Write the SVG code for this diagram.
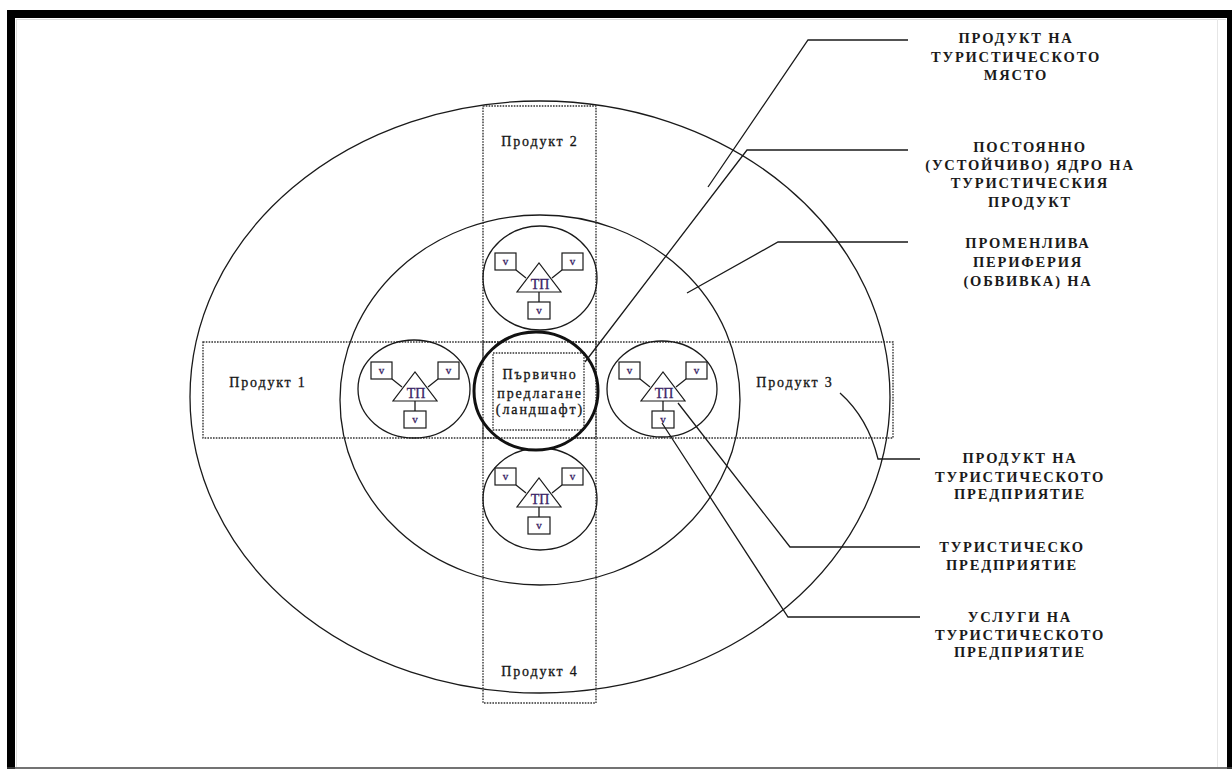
<svg xmlns="http://www.w3.org/2000/svg" width="1232" height="769" viewBox="0 0 1232 769">
  <style>
    .ln { fill: none; stroke: #1a1a1a; stroke-width: 1.3; }
    .bold { fill: none; stroke: #111; stroke-width: 3; }
    .dot { fill: none; stroke: #333; stroke-width: 1.4; stroke-dasharray: 1.6 1.2; }
    .box { fill: #fff; stroke: #1a1a1a; stroke-width: 1.2; }
    .lbl { font-family: "Liberation Serif", "Times New Roman", serif; font-size: 14px; fill: #151515; stroke: #151515; stroke-width: 0.3; text-anchor: middle; letter-spacing: 1.8px; }
    .mid { font-family: "Liberation Serif", "Times New Roman", serif; font-size: 14px; fill: #151515; stroke: #151515; stroke-width: 0.3; text-anchor: middle; letter-spacing: 1.9px; }
    .cap { font-family: "Liberation Serif", "Times New Roman", serif; font-size: 14.5px; font-weight: bold; fill: #1a1a1a; text-anchor: middle; letter-spacing: 1.8px; }
    .tp { font-family: "Liberation Serif", "Times New Roman", serif; font-size: 14px; fill: #3a2466; stroke: #3a2466; stroke-width: 0.3; text-anchor: middle; }
    .v { font-family: "Liberation Serif", "Times New Roman", serif; font-size: 11px; fill: #3a2466; stroke: #3a2466; stroke-width: 0.3; text-anchor: middle; }
  </style>
  <defs>
    <!-- tourist enterprise: triangle "ТП" with three service boxes "v" -->
    <g id="enterprise">
      <line class="ln" x1="-22" y1="-11" x2="-12" y2="-3"/>
      <line class="ln" x1="24" y1="-11" x2="14" y2="-3"/>
      <line class="ln" x1="1" y1="11" x2="1" y2="21"/>
      <rect class="box" x="-43" y="-28" width="21" height="17"/>
      <rect class="box" x="24" y="-28" width="21" height="17"/>
      <rect class="box" x="-10" y="21" width="22" height="17"/>
      <polygon class="box" points="-21,11 23,11 1,-18"/>
      <text class="tp" x="2" y="8">ТП</text>
      <text class="v" x="-32.5" y="-16">v</text>
      <text class="v" x="34.5" y="-16">v</text>
      <text class="v" x="1" y="33">v</text>
    </g>
  </defs>

  <rect width="1232" height="769" fill="#fff"/>

  <!-- page frame -->
  <g id="frame">
    <rect x="7" y="10" width="1225" height="8" fill="#000"/>
    <rect x="7" y="10" width="8" height="759" fill="#000"/>
    <rect x="1227" y="10" width="5" height="759" fill="#000"/>
    <line x1="7" y1="768" x2="1232" y2="768" stroke="#444" stroke-width="1.5"/>
    <line x1="16" y1="19.5" x2="1226" y2="19.5" stroke="#ddd" stroke-width="1"/>
    <line x1="16.5" y1="19" x2="16.5" y2="767" stroke="#ddd" stroke-width="1"/>
    <line x1="1217.5" y1="19" x2="1217.5" y2="767" stroke="#e6e6e6" stroke-width="1"/>
  </g>

  <!-- destination product: outer ellipse -->
  <g id="destination">
    <ellipse class="ln" cx="540" cy="397" rx="350" ry="296"/>
  </g>

  <!-- variable periphery: middle ellipse -->
  <g id="periphery">
    <ellipse class="ln" cx="540" cy="400" rx="200" ry="185"/>
  </g>

  <!-- product bands -->
  <g id="bands">
    <rect class="dot" x="483" y="106" width="113" height="597"/>
    <rect class="dot" x="203" y="342" width="690" height="96"/>
  </g>

  <g id="product1"><text class="lbl" x="268" y="387">Продукт 1</text></g>
  <g id="product2"><text class="lbl" x="540" y="146">Продукт 2</text></g>
  <g id="product3"><text class="lbl" x="795" y="387">Продукт 3</text></g>
  <g id="product4"><text class="lbl" x="540" y="676">Продукт 4</text></g>

  <!-- enterprise circles -->
  <g id="enterprise-top">
    <ellipse class="ln" cx="540" cy="278" rx="57" ry="52" fill="#fff"/>
    <use href="#enterprise" x="538" y="281"/>
  </g>
  <g id="enterprise-left">
    <ellipse class="ln" cx="414" cy="389" rx="56" ry="49" fill="#fff"/>
    <use href="#enterprise" x="414" y="390"/>
  </g>
  <g id="enterprise-right">
    <ellipse class="ln" cx="662" cy="389" rx="55" ry="48" fill="#fff"/>
    <use href="#enterprise" x="662" y="390"/>
  </g>
  <g id="enterprise-bottom">
    <ellipse class="ln" cx="540" cy="499" rx="57" ry="51" fill="#fff"/>
    <use href="#enterprise" x="538" y="496"/>
  </g>

  <!-- permanent core: primary offer -->
  <g id="core">
    <ellipse cx="536" cy="391" rx="62" ry="59" fill="#fff" stroke="none"/>
    <rect class="dot" x="483" y="342" width="113" height="96"/>
    <rect class="dot" x="493" y="353" width="91" height="77"/>
    <ellipse class="bold" cx="536" cy="391" rx="62" ry="59"/>
    <text class="mid" x="540" y="379">Първично</text>
    <text class="mid" x="540" y="398">предлагане</text>
    <text class="mid" x="540" y="414">(ландшафт)</text>
  </g>

  <!-- leader lines -->
  <g id="connectors">
    <polyline class="ln" points="908,40 808,40 708,187"/>
    <polyline class="ln" points="908,150 747,150 585,362"/>
    <polyline class="ln" points="908,242 778,242 687,293"/>
    <path class="ln" d="M920,459 H878 Q868,418 840,393"/>
    <polyline class="ln" points="920,547 790,547 678,403"/>
    <polyline class="ln" points="920,617 788,617 662,423"/>
  </g>

  <!-- legend texts -->
  <g id="legend-destination">
    <text class="cap" x="1016" y="43">ПРОДУКТ НА</text>
    <text class="cap" x="1016" y="62">ТУРИСТИЧЕСКОТО</text>
    <text class="cap" x="1016" y="80">МЯСТО</text>
  </g>
  <g id="legend-core">
    <text class="cap" x="1030" y="152">ПОСТОЯННО</text>
    <text class="cap" x="1030" y="170">(УСТОЙЧИВО) ЯДРО НА</text>
    <text class="cap" x="1030" y="188">ТУРИСТИЧЕСКИЯ</text>
    <text class="cap" x="1030" y="207">ПРОДУКТ</text>
  </g>
  <g id="legend-periphery">
    <text class="cap" x="1028" y="248">ПРОМЕНЛИВА</text>
    <text class="cap" x="1028" y="267">ПЕРИФЕРИЯ</text>
    <text class="cap" x="1028" y="286">(ОБВИВКА) НА</text>
  </g>
  <g id="legend-enterprise-product">
    <text class="cap" x="1020" y="463">ПРОДУКТ НА</text>
    <text class="cap" x="1020" y="482">ТУРИСТИЧЕСКОТО</text>
    <text class="cap" x="1020" y="499">ПРЕДПРИЯТИЕ</text>
  </g>
  <g id="legend-enterprise">
    <text class="cap" x="1012" y="552">ТУРИСТИЧЕСКО</text>
    <text class="cap" x="1012" y="570">ПРЕДПРИЯТИЕ</text>
  </g>
  <g id="legend-services">
    <text class="cap" x="1020" y="622">УСЛУГИ НА</text>
    <text class="cap" x="1020" y="640">ТУРИСТИЧЕСКОТО</text>
    <text class="cap" x="1020" y="657">ПРЕДПРИЯТИЕ</text>
  </g>
</svg>
